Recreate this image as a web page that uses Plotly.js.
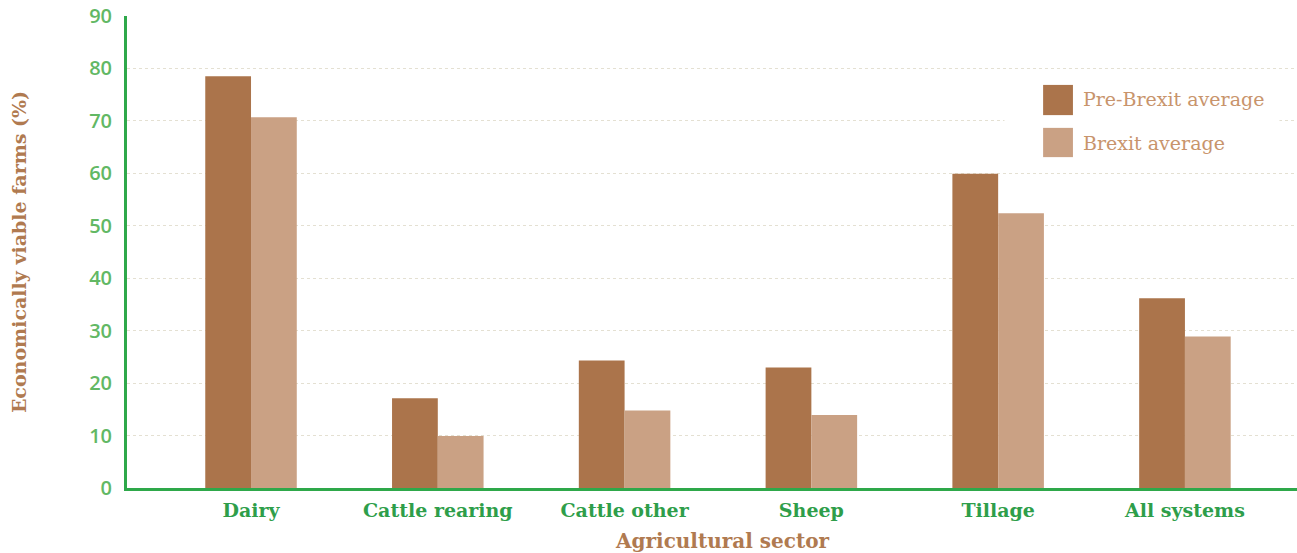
<!DOCTYPE html>
<html><head><meta charset="utf-8">
<script src="https://cdn.plot.ly/plotly-3.0.1.min.js"></script>
<style>body{margin:0;background:#fff}#chart{width:1297px;height:553px}</style>
</head><body><div id="chart"></div>
<script>
const categories = ["Dairy", "Cattle rearing", "Cattle other", "Sheep", "Tillage", "All systems"];
const preBrexit = [78.5, 17.1, 24.3, 23.0, 59.9, 36.2];
const brexit = [70.7, 9.9, 14.8, 13.9, 52.4, 28.9];
const seriesNames = ["Pre-Brexit average", "Brexit average"];
const yTicks = [0, 10, 20, 30, 40, 50, 60, 70, 80, 90];

const cPre = "#ab744b", cBrex = "#caa184";
const serif = "'DejaVu Serif', 'Liberation Serif', serif";
const sans = "'Open Sans', 'Noto Sans', sans-serif";

const traces = [
  {type: "bar", x: categories, y: preBrexit, name: seriesNames[0], marker: {color: cPre}, hoverinfo: "none"},
  {type: "bar", x: categories, y: brexit, name: seriesNames[1], marker: {color: cBrex}, hoverinfo: "none"}
];

const layout = {
  width: 1297, height: 553,
  margin: {l: 127, r: 0, t: 16, b: 65},
  paper_bgcolor: "#fff", plot_bgcolor: "#fff",
  barmode: "group", bargap: 0.51, bargroupgap: 0,
  showlegend: false,
  xaxis: {
    range: [-0.664, 5.6],
    showline: true, linecolor: "#2ea84a", linewidth: 3,
    tickfont: {family: serif, size: 19, color: "#2e9e4a", weight: "bold"},
    ticks: "", showgrid: false, ticklabelstandoff: 3
  },
  yaxis: {
    range: [0, 90], tickvals: yTicks, ticktext: yTicks.map(String),
    showline: true, linecolor: "#2ea84a", linewidth: 3,
    gridcolor: "#e4e0d2", griddash: "dot", gridwidth: 1,
    zeroline: false, ticks: "",
    tickfont: {family: sans, size: 20, color: "#62b864", weight: 600},
    ticklabelstandoff: 8,
    title: {text: "Economically viable farms (%)", font: {family: serif, size: 19, color: "#b07a50", weight: "bold"}, standoff: 58}
  },
  shapes: [
    {type: "rect", xref: "paper", yref: "paper", x0: 0.75, x1: 0.985, y0: 0.68, y1: 0.88, fillcolor: "#fff", line: {width: 0}, layer: "above"},
    {type: "rect", xref: "paper", yref: "paper", x0: 0.783, x1: 0.8085, y0: 0.854, y1: 0.790, fillcolor: cPre, line: {width: 0}, layer: "above"},
    {type: "rect", xref: "paper", yref: "paper", x0: 0.783, x1: 0.8085, y0: 0.763, y1: 0.701, fillcolor: cBrex, line: {width: 0}, layer: "above"}
  ],
  annotations: [
    {xref: "paper", yref: "paper", x: 0.815, y: 0.824, xanchor: "left", yanchor: "middle", showarrow: false, text: seriesNames[0], font: {family: serif, size: 19, color: "#c8946c"}},
    {xref: "paper", yref: "paper", x: 0.815, y: 0.731, xanchor: "left", yanchor: "middle", showarrow: false, text: seriesNames[1], font: {family: serif, size: 19, color: "#c8946c"}},
    {xref: "paper", yref: "paper", x: 0.509, y: -0.112, xanchor: "center", yanchor: "middle", showarrow: false, text: "Agricultural sector", font: {family: serif, size: 20, color: "#b07a50", weight: "bold"}}
  ]
};

Plotly.newPlot("chart", traces, layout, {displayModeBar: false, staticPlot: true});
</script></body></html>
